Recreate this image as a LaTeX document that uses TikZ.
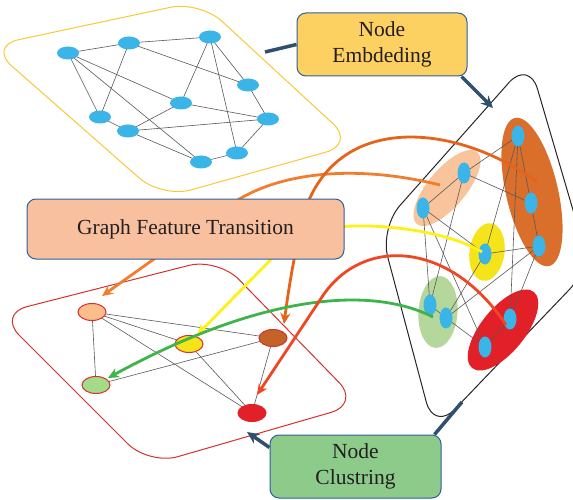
\documentclass[tikz,border=0pt]{standalone}
\usepackage{fontspec}
\setmainfont{Liberation Serif}
\usetikzlibrary{shapes.geometric,arrows.meta,calc}
\definecolor{nodeblue}{HTML}{3BB4E7}
\definecolor{connblue}{HTML}{2E4F6E}
\definecolor{boxblue}{HTML}{2F5F98}
\definecolor{embfill}{HTML}{FDD062}
\definecolor{gftfill}{HTML}{F9C0A0}
\definecolor{clufill}{HTML}{8DCB8B}
\definecolor{goldline}{HTML}{F8C936}
\definecolor{redline}{HTML}{D6302E}
\definecolor{peach}{HTML}{F9C49B}
\definecolor{dorange}{HTML}{DA6E2B}
\definecolor{cyellow}{HTML}{F5E41A}
\definecolor{lgreen}{HTML}{B6D79B}
\definecolor{cred}{HTML}{E12127}
\definecolor{aorange}{HTML}{F07E2E}
\definecolor{adorange}{HTML}{E5641C}
\definecolor{ayellow}{HTML}{FFF016}
\definecolor{agreen}{HTML}{3DB54A}
\definecolor{ared}{HTML}{EF4724}
\definecolor{txt}{HTML}{231F20}
\pgfdeclarelayer{back}
\pgfdeclarelayer{bg}
\pgfsetlayers{back,bg,main}
\begin{document}
\begin{tikzpicture}[x=1pt,y=-1pt,
  bn/.style={ellipse,fill=nodeblue,minimum width=22pt,minimum height=13pt,inner sep=0pt},
  rn/.style={ellipse,fill=nodeblue,minimum width=13pt,minimum height=21pt,inner sep=0pt},
  gn/.style={ellipse,draw=redline,line width=1pt,minimum width=28pt,minimum height=17pt,inner sep=0pt},
  edge/.style={draw=black!65,line width=0.6pt},
  conn/.style={draw=connblue,line width=3.5pt},
  connarrow/.style={conn,-{Stealth[length=12pt,width=11pt]}},
  farrow/.style={line width=2.8pt,-{Stealth[length=11pt,width=10pt]}},
  lbox/.style={draw=boxblue,line width=1pt,rounded corners=9pt,align=center,text=txt,
    font=\fontsize{21.5}{26}\selectfont,inner sep=0pt},
  outline/.style={line width=1pt,rounded corners=30pt}
]
\useasboundingbox (0,0) rectangle (573,500);

% ---------- outlines ----------
\begin{pgfonlayer}{back}
\draw[outline,draw=goldline,fill=white] (200,1) -- (355,144) -- (162,198) -- (-11,46) -- cycle;
\draw[outline,draw=redline,fill=white] (218,258) -- (360,404) -- (149,465) -- (-2,314) -- cycle;
\draw[outline,draw=black!85,fill=white] (529,60) -- (590,268) -- (434,431) -- (380,228) -- cycle;
% clusters
\fill[peach,rotate around={50:(447,188)}] (447,188) ellipse (47 and 19);
\fill[dorange,rotate around={-77:(532,192)}] (532,192) ellipse (76 and 26);
\fill[cyellow,rotate around={82:(487,252)}] (487,252) ellipse (29 and 17.5);
\fill[lgreen,rotate around={86:(438,312)}] (438,312) ellipse (36 and 19.5);
\fill[cred,rotate around={51:(503,330)}] (503,330) ellipse (49 and 22);
\end{pgfonlayer}

% ---------- top graph ----------
\foreach \n/\x/\y in {t1/68/53,t2/129/43,t3/210/37,t4/248/85,t5/181/103,
  t6/100/117,t7/128/131,t8/268/119,t9/237/153,t10/201/162}
  \node[bn] (\n) at (\x,\y) {};
\begin{pgfonlayer}{bg}
\foreach \u/\v in {t1/t2,t2/t3,t1/t6,t1/t5,t1/t10,t2/t6,t2/t4,t3/t5,t3/t4,t3/t9,
  t5/t7,t5/t8,t6/t7,t7/t8,t7/t10,t4/t8,t8/t9,t9/t10}
  \draw[edge] (\u.center) -- (\v.center);
\end{pgfonlayer}

% ---------- right graph ----------
\foreach \n/\x/\y in {rA/464/173,rB/423/208,rC/518/136,rD/531/203,rE/539/246,
  rF/485/254,rG/430/305,rH/446/318,rI/510/319,rJ/485/347}
  \node[rn] (\n) at (\x,\y) {};
\begin{pgfonlayer}{bg}
\foreach \u/\v in {rA/rC,rA/rB,rA/rD,rA/rG,rB/rG,rB/rF,rB/rJ,rC/rD,rC/rF,rC/rI,
  rD/rE,rF/rE,rF/rH,rE/rH,rE/rI,rG/rH,rH/rJ,rI/rJ}
  \draw[edge] (\u.center) -- (\v.center);
\end{pgfonlayer}

% ---------- bottom-left graph ----------
\node[gn,fill=peach!90!orange] (p1) at (92,312) {};
\node[gn,fill=cyellow] (p2) at (189,344) {};
\node[gn,fill=dorange!90!black] (p3) at (273,338) {};
\node[gn,fill=lgreen!90!green] (p4) at (96,385) {};
\node[gn,draw=cred,fill=cred] (p5) at (252,413) {};
\begin{pgfonlayer}{bg}
\foreach \u/\v in {p1/p2,p1/p3,p1/p4,p1/p5,p4/p3,p2/p5,p3/p5}
  \draw[edge] (\u.center) -- (\v.center);
\end{pgfonlayer}

% ---------- coloured transition arrows ----------
\coordinate (tipO) at (102,296);
\coordinate (tipY) at (197,335);
\coordinate (tipD) at (284,324);
\coordinate (tipG) at (108,378);
\coordinate (tipR) at (257,395);
\coordinate (sO) at (440,185);
\coordinate (sD) at (537,182);
\coordinate (sY) at (482,252);
\coordinate (sG) at (433,317);
\coordinate (sR) at (506,325);
\draw[farrow,draw=aorange] (sO) .. controls (360,165) and (280,170) .. (230,205) -- (tipO);
\draw[farrow,draw=adorange] (sD) .. controls (460,125) and (340,110) .. (305,210) .. controls (296,245) and (289,285) .. (tipD);
\draw[farrow,draw=ayellow] (sY) .. controls (440,226) and (330,215) .. (290,240) -- (tipY);
\draw[farrow,draw=agreen] (sG) .. controls (370,285) and (260,295) .. (tipG);
\draw[farrow,draw=ared] (sR) .. controls (450,240) and (360,235) .. (320,300) -- (tipR);

% ---------- label boxes ----------
\node[lbox,fill=embfill,minimum width=170pt,minimum height=63pt] (emb) at (382,44.5) {Node\\Embdeding};
\node[lbox,fill=gftfill,minimum width=317pt,minimum height=60pt] (gft) at (185.5,229) {Graph Feature Transition};
\node[lbox,fill=clufill,minimum width=171pt,minimum height=63pt] (clu) at (355.5,466.5) {Node\\Clustring};

\coordinate (eTop) at (265,52);
\coordinate (eRight) at (493,108);
\coordinate (cLeft) at (247,432);
\coordinate (cRight) at (462,402);
\begin{pgfonlayer}{bg}
\draw[conn] (emb.west) -- (eTop);
\draw[connarrow] ($(emb.south east)+(-6,0)$) -- (eRight);
\draw[connarrow] ($(clu.north west)+(0,13)$) -- (cLeft);
\draw[conn] ($(clu.north east)+(-7,0)$) -- (cRight);
\end{pgfonlayer}
\end{tikzpicture}
\end{document}
